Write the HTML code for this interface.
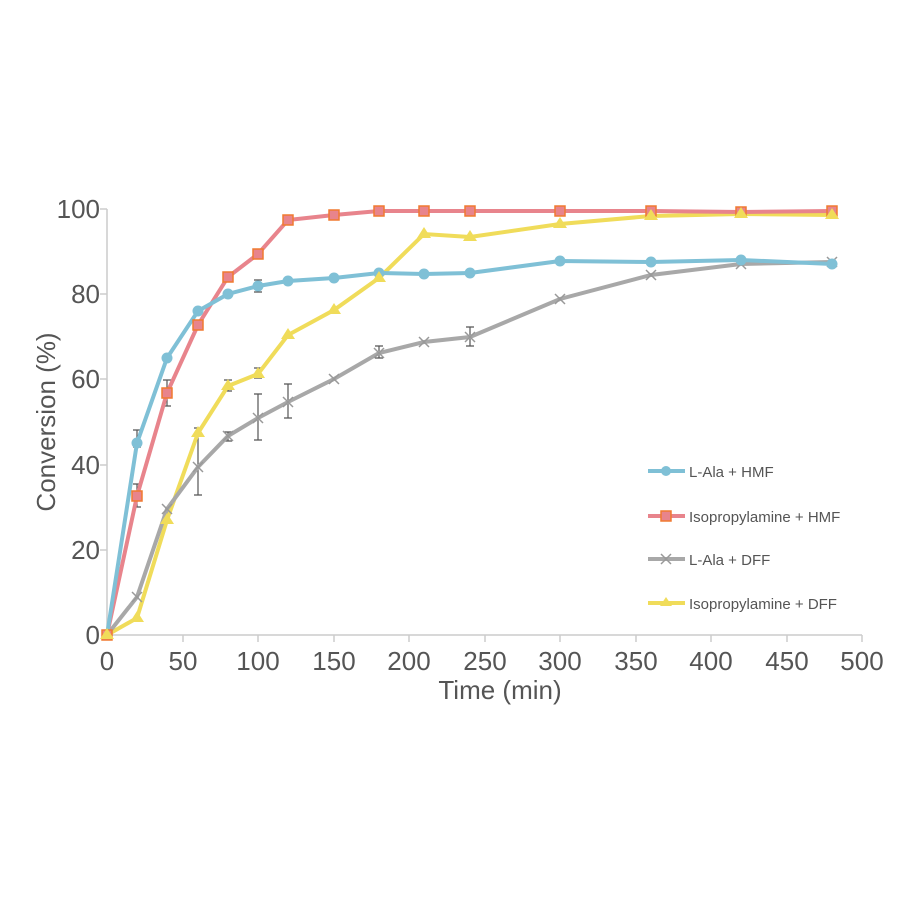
<!DOCTYPE html>
<html><head><style>body{margin:0;background:#fff}svg{display:block}</style></head><body>
<svg width="900" height="900" xmlns="http://www.w3.org/2000/svg" font-family="Liberation Sans, sans-serif" fill="#555">
<rect width="900" height="900" fill="#fff"/>
<g stroke="#ccc" stroke-width="1.5" fill="none">
<line x1="107" y1="209" x2="107" y2="635"/>
<line x1="107" y1="635" x2="862" y2="635"/>
<line x1="100" y1="209" x2="107" y2="209"/><line x1="100" y1="294" x2="107" y2="294"/><line x1="100" y1="379" x2="107" y2="379"/><line x1="100" y1="465" x2="107" y2="465"/><line x1="100" y1="550" x2="107" y2="550"/>
<line x1="183" y1="635" x2="183" y2="642"/><line x1="258" y1="635" x2="258" y2="642"/><line x1="334" y1="635" x2="334" y2="642"/><line x1="409" y1="635" x2="409" y2="642"/><line x1="485" y1="635" x2="485" y2="642"/><line x1="560" y1="635" x2="560" y2="642"/><line x1="636" y1="635" x2="636" y2="642"/><line x1="711" y1="635" x2="711" y2="642"/><line x1="787" y1="635" x2="787" y2="642"/><line x1="862" y1="635" x2="862" y2="642"/>
</g>
<g font-size="26" text-anchor="end">
<text x="100" y="218">100</text><text x="100" y="303">80</text><text x="100" y="388">60</text><text x="100" y="474">40</text><text x="100" y="559">20</text><text x="100" y="644">0</text>
</g>
<g font-size="26" text-anchor="middle">
<text x="107" y="670">0</text><text x="183" y="670">50</text><text x="258" y="670">100</text><text x="334" y="670">150</text><text x="409" y="670">200</text><text x="485" y="670">250</text><text x="560" y="670">300</text><text x="636" y="670">350</text><text x="711" y="670">400</text><text x="787" y="670">450</text><text x="862" y="670">500</text>
</g>
<text x="500" y="699" font-size="26" text-anchor="middle">Time (min)</text>
<text transform="translate(55,422) rotate(-90)" font-size="26" text-anchor="middle">Conversion (%)</text>
<g stroke="#555" stroke-width="1.2">
<path d="M137,430V447M133,430h8M133,447h8"/>
<path d="M137,484V507M133,484h8M133,507h8"/>
<path d="M167,380V406M163,380h8M163,406h8"/>
<path d="M198,428V495M194,428h8M194,495h8"/>
<path d="M228,432V441M224,432h8M224,441h8"/>
<path d="M258,394V440M254,394h8M254,440h8"/>
<path d="M258,280V292M254,280h8M254,292h8"/>
<path d="M258,368V378M254,368h8M254,378h8"/>
<path d="M288,384V418M284,384h8M284,418h8"/>
<path d="M228,380V391M224,380h8M224,391h8"/>
<path d="M470,327V346M466,327h8M466,346h8"/>
<path d="M379,346V358M375,346h8M375,358h8"/>
</g>
<polyline fill="none" stroke="#f0dc5a" stroke-width="4" points="107,635 137,618 167,520 198,433 228,386 258,374 288,335 334,310 379,278 424,234 470,237 560,224 651,216 741,214 832,215"/>
<polyline fill="none" stroke="#a8a8a8" stroke-width="4" points="107,635 137,597 167,509 198,467 228,436 258,418 288,402 334,379 379,353 424,342 470,337 560,299 651,275 741,264 832,262"/>
<polyline fill="none" stroke="#e8848c" stroke-width="4" points="107,635 137,496 167,393 198,325 228,277 258,254 288,220 334,215 379,211 424,211 470,211 560,211 651,211 741,212 832,211"/>
<polyline fill="none" stroke="#7fc0d6" stroke-width="4" points="107,635 137,443 167,358 198,311 228,294 258,286 288,281 334,278 379,273 424,274 470,273 560,261 651,262 741,260 832,264"/>
<g stroke="#999" stroke-width="1.5" fill="none"><path d="M132,592l10,10M142,592l-10,10M162,504l10,10M172,504l-10,10M193,462l10,10M203,462l-10,10M223,431l10,10M233,431l-10,10M253,413l10,10M263,413l-10,10M283,397l10,10M293,397l-10,10M329,374l10,10M339,374l-10,10M374,348l10,10M384,348l-10,10M419,337l10,10M429,337l-10,10M465,332l10,10M475,332l-10,10M555,294l10,10M565,294l-10,10M646,270l10,10M656,270l-10,10M736,259l10,10M746,259l-10,10M827,257l10,10M837,257l-10,10"/></g>
<g fill="#7fc0d6"><circle cx="137" cy="443" r="5.5"/><circle cx="167" cy="358" r="5.5"/><circle cx="198" cy="311" r="5.5"/><circle cx="228" cy="294" r="5.5"/><circle cx="258" cy="286" r="5.5"/><circle cx="288" cy="281" r="5.5"/><circle cx="334" cy="278" r="5.5"/><circle cx="379" cy="273" r="5.5"/><circle cx="424" cy="274" r="5.5"/><circle cx="470" cy="273" r="5.5"/><circle cx="560" cy="261" r="5.5"/><circle cx="651" cy="262" r="5.5"/><circle cx="741" cy="260" r="5.5"/><circle cx="832" cy="264" r="5.5"/></g>
<g fill="#e8848c" stroke="#f07a30" stroke-width="1.5"><rect x="102" y="630" width="10" height="10"/><rect x="132" y="491" width="10" height="10"/><rect x="162" y="388" width="10" height="10"/><rect x="193" y="320" width="10" height="10"/><rect x="223" y="272" width="10" height="10"/><rect x="253" y="249" width="10" height="10"/><rect x="283" y="215" width="10" height="10"/><rect x="329" y="210" width="10" height="10"/><rect x="374" y="206" width="10" height="10"/><rect x="419" y="206" width="10" height="10"/><rect x="465" y="206" width="10" height="10"/><rect x="555" y="206" width="10" height="10"/><rect x="646" y="206" width="10" height="10"/><rect x="736" y="207" width="10" height="10"/><rect x="827" y="206" width="10" height="10"/></g>
<g fill="#f0dc5a"><path d="M107,628 l7,11 h-14z"/><path d="M137,611 l7,11 h-14z"/><path d="M167,513 l7,11 h-14z"/><path d="M198,426 l7,11 h-14z"/><path d="M228,379 l7,11 h-14z"/><path d="M258,367 l7,11 h-14z"/><path d="M288,328 l7,11 h-14z"/><path d="M334,303 l7,11 h-14z"/><path d="M379,271 l7,11 h-14z"/><path d="M424,227 l7,11 h-14z"/><path d="M470,230 l7,11 h-14z"/><path d="M560,217 l7,11 h-14z"/><path d="M651,209 l7,11 h-14z"/><path d="M741,207 l7,11 h-14z"/><path d="M832,208 l7,11 h-14z"/></g>
<g fill="none" stroke="#a8a8a8" stroke-width="4">
<line x1="648" y1="471" x2="685" y2="471" stroke="#7fc0d6"/>
<line x1="648" y1="516" x2="685" y2="516" stroke="#e8848c"/>
<line x1="648" y1="559" x2="685" y2="559"/>
<line x1="648" y1="603" x2="685" y2="603" stroke="#f0dc5a"/>
</g>
<circle cx="666" cy="471" r="5" fill="#7fc0d6"/>
<rect x="661" y="511" width="10" height="10" fill="#e8848c" stroke="#f07a30" stroke-width="1.5"/>
<path d="M661,554 l10,10 M671,554 l-10,10" stroke="#999" stroke-width="1.5"/>
<path d="M666,597 l6,9 h-12z" fill="#f0dc5a"/>
<g font-size="15" fill="#555">
<text x="689" y="477">L-Ala + HMF</text>
<text x="689" y="522">Isopropylamine + HMF</text>
<text x="689" y="565">L-Ala + DFF</text>
<text x="689" y="609">Isopropylamine + DFF</text>
</g>
</svg>
</body></html>
